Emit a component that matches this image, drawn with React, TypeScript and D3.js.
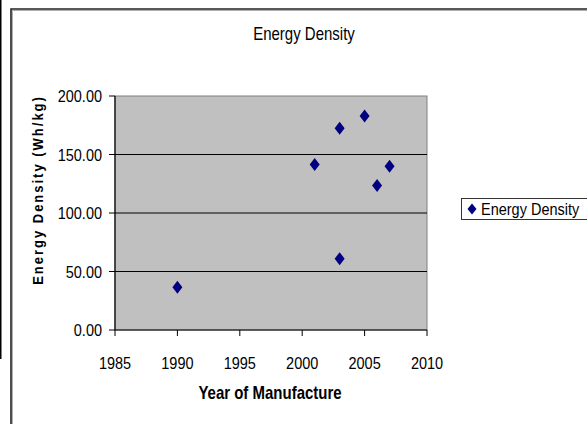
import React from "react";
import * as d3 from "d3";

const years = [1990, 2001, 2003, 2003, 2005, 2006, 2007];
const densities = [36.5, 141.5, 172.5, 61, 183, 123.5, 140];
const xTicks = [1985, 1990, 1995, 2000, 2005, 2010];
const yTicks = [0, 50, 100, 150, 200];
const seriesName = "Energy Density";
const chartTitle = "Energy Density";
const xTitle = "Year of Manufacture";
const yTitle = "Energy Density (Wh/kg)";

const W = 587;
const H = 424;
const plot = { left: 115, right: 427, top: 96, bottom: 330 };
const font = "'Liberation Sans', Arial, sans-serif";
const navy = "#000080";
const SY = 1.18;

type TProps = {
  x: number;
  y: number;
  size: number;
  anchor?: "start" | "middle" | "end";
  bold?: boolean;
  children: React.ReactNode;
};

function T({ x, y, size, anchor = "start", bold = false, children }: TProps) {
  return (
    <text
      transform={`translate(${x},${y}) scale(1,${SY})`}
      textAnchor={anchor}
      fontSize={size}
      fontWeight={bold ? "bold" : "normal"}
      fill="#000"
    >
      {children}
    </text>
  );
}

export default function App() {
  const x = d3.scaleLinear().domain([1985, 2010]).range([plot.left, plot.right]);
  const y = d3.scaleLinear().domain([0, 200]).range([plot.bottom, plot.top]);
  const diamond = (cx: number, cy: number, rx = 5, ry = 6.5) =>
    `M${cx},${cy - ry}L${cx + rx},${cy}L${cx},${cy + ry}L${cx - rx},${cy}Z`;

  return (
    <svg
      width={W}
      height={H}
      style={{ position: "absolute", left: 0, top: 0, background: "#fff" }}
      fontFamily={font}
    >
      <rect x={0} y={0} width={W} height={H} fill="#fff" />
      <rect x={0} y={0} width={1.5} height={359} fill="#000" />
      <path d={`M11,${H + 2}V9H${W + 2}`} fill="none" stroke="#222" strokeWidth={1.6} />
      <path d={`M12.5,${H + 2}V10.5H${W + 2}`} fill="none" stroke="#999" strokeWidth={0.8} />

      <T x={304} y={40} size={15} anchor="middle">
        {chartTitle}
      </T>

      <rect
        x={plot.left}
        y={plot.top}
        width={plot.right - plot.left}
        height={plot.bottom - plot.top}
        fill="#c0c0c0"
        stroke="#808080"
        strokeWidth={1}
      />
      {yTicks
        .filter((t) => t > 0 && t < 200)
        .map((t) => (
          <line key={t} x1={plot.left} x2={plot.right} y1={y(t)} y2={y(t)} stroke="#000" strokeWidth={1} />
        ))}
      <line x1={plot.left} x2={plot.left} y1={plot.top} y2={plot.bottom} stroke="#000" strokeWidth={1.2} />
      <line x1={plot.left} x2={plot.right} y1={plot.bottom} y2={plot.bottom} stroke="#000" strokeWidth={1.2} />
      {yTicks.map((t) => (
        <g key={t}>
          <line x1={plot.left - 6} x2={plot.left} y1={y(t)} y2={y(t)} stroke="#000" />
          <T x={102} y={y(t) + 6} size={14.5} anchor="end">
            {t.toFixed(2)}
          </T>
        </g>
      ))}
      {xTicks.map((t) => (
        <g key={t}>
          <line x1={x(t)} x2={x(t)} y1={plot.bottom} y2={plot.bottom + 6} stroke="#000" />
          <T x={x(t)} y={369} size={14.5} anchor="middle">
            {t}
          </T>
        </g>
      ))}

      {years.map((yr, i) => (
        <path key={i} d={diamond(x(yr), y(densities[i]))} fill={navy} />
      ))}

      <T x={270} y={399} size={15} anchor="middle" bold>
        {xTitle}
      </T>
      <text
        transform={`translate(43,190) rotate(-90) scale(1,${SY})`}
        textAnchor="middle"
        fontSize={13}
        fontWeight="bold"
        letterSpacing={2}
        fill="#000"
      >
        {yTitle}
      </text>

      <rect x={461.5} y={198.5} width={140} height={21} fill="#fff" stroke="#333" strokeWidth={1} />
      <path d={diamond(472, 209, 4.5, 5.5)} fill={navy} />
      <T x={481} y={215} size={14.5}>
        {seriesName}
      </T>
    </svg>
  );
}
